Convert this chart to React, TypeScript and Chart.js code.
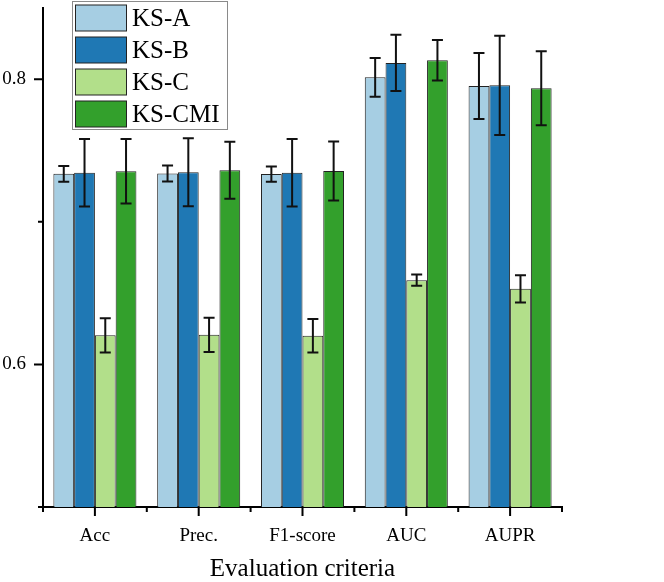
import React, { useEffect, useRef } from "react";
import { Chart, registerables } from "chart.js";

Chart.register(...registerables);

const categories = ["Acc", "Prec.", "F1-score", "AUC", "AUPR"];
const seriesNames = ["KS-A", "KS-B", "KS-C", "KS-CMI"];
const ksA = [0.7337, 0.7339, 0.7335, 0.8014, 0.7953];
const ksAErr = [0.0055, 0.0056, 0.0054, 0.0136, 0.0231];
const ksB = [0.7344, 0.7348, 0.7344, 0.8115, 0.7958];
const ksBErr = [0.0237, 0.0238, 0.0237, 0.0197, 0.0348];
const ksC = [0.6204, 0.6208, 0.6201, 0.6591, 0.653];
const ksCErr = [0.012, 0.012, 0.0118, 0.0039, 0.0095];
const ksCMI = [0.7355, 0.7362, 0.7357, 0.8134, 0.7937];
const ksCMIErr = [0.0227, 0.02, 0.0207, 0.0142, 0.026];
const seriesColors = ["#a6cee3", "#1f78b4", "#b2df8a", "#33a02c"];
const yLabeledTicks = [0.6, 0.8];
const yMinorTicks = [0.5, 0.7];
const yMin = 0.5;
const yMax = 0.85;
const xTitle = "Evaluation criteria";

const FONT = '"Liberation Serif", "Times New Roman", serif';

const errorBarPlugin = {
  id: "errorBars",
  afterDatasetsDraw(chart: any) {
    const ctx = chart.ctx;
    const ys = chart.scales.y;
    ctx.save();
    ctx.strokeStyle = "#111";
    ctx.lineWidth = 2;
    chart.data.datasets.forEach((ds: any, i: number) => {
      const meta = chart.getDatasetMeta(i);
      meta.data.forEach((el: any, j: number) => {
        const v = ds.data[j];
        const e = ds.errors[j];
        const x = el.x;
        const yt = ys.getPixelForValue(v + e);
        const yb = ys.getPixelForValue(v - e);
        const cap = 5.5;
        ctx.beginPath();
        ctx.moveTo(x, yt);
        ctx.lineTo(x, yb);
        ctx.moveTo(x - cap, yt);
        ctx.lineTo(x + cap, yt);
        ctx.moveTo(x - cap, yb);
        ctx.lineTo(x + cap, yb);
        ctx.stroke();
      });
    });
    ctx.restore();
  },
};

const tickMarksPlugin = {
  id: "tickMarks",
  afterDraw(chart: any) {
    const ctx = chart.ctx;
    const ys = chart.scales.y;
    const xs = chart.scales.x;
    const area = chart.chartArea;
    ctx.save();
    ctx.strokeStyle = "#000";
    ctx.lineWidth = 2;
    ctx.beginPath();
    yLabeledTicks.forEach((v) => {
      const y = ys.getPixelForValue(v);
      ctx.moveTo(area.left - 9, y);
      ctx.lineTo(area.left, y);
    });
    yMinorTicks.forEach((v) => {
      const y = ys.getPixelForValue(v);
      ctx.moveTo(area.left - 5, y);
      ctx.lineTo(area.left, y);
    });
    const n = categories.length;
    const w = (area.right - area.left) / n;
    for (let i = 0; i < n; i++) {
      const x = xs.getPixelForValue(i);
      ctx.moveTo(x, area.bottom);
      ctx.lineTo(x, area.bottom + 9);
    }
    for (let i = 0; i <= n; i++) {
      const x = area.left + i * w;
      ctx.moveTo(x, area.bottom);
      ctx.lineTo(x, area.bottom + 5);
    }
    ctx.stroke();
    ctx.restore();
  },
};

const legendPlugin = {
  id: "boxLegend",
  afterDraw(chart: any) {
    const ctx = chart.ctx;
    const bx = 72;
    const by = 1;
    const bw = 155;
    const bh = 128;
    ctx.save();
    ctx.fillStyle = "#fff";
    ctx.fillRect(bx, by, bw, bh);
    ctx.strokeStyle = "#8a8a8a";
    ctx.lineWidth = 1;
    ctx.strokeRect(bx + 0.5, by + 0.5, bw, bh);
    ctx.font = `25px ${FONT}`;
    ctx.textBaseline = "middle";
    ctx.textAlign = "left";
    chart.data.datasets.forEach((ds: any, i: number) => {
      const py = by + 4 + i * 32;
      ctx.fillStyle = ds.backgroundColor;
      ctx.fillRect(bx + 3.5, py, 51, 26);
      ctx.strokeStyle = "#222";
      ctx.lineWidth = 1;
      ctx.strokeRect(bx + 3.5, py, 51, 26);
      ctx.fillStyle = "#000";
      ctx.fillText(ds.label, bx + 60, py + 14);
    });
    ctx.restore();
  },
};

export default function App() {
  const ref = useRef<HTMLCanvasElement | null>(null);
  useEffect(() => {
    document.body.style.margin = "0";
    const canvas = ref.current;
    if (!canvas) return;
    const values = [ksA, ksB, ksC, ksCMI];
    const errs = [ksAErr, ksBErr, ksCErr, ksCMIErr];
    const chart = new Chart(canvas, {
      type: "bar",
      data: {
        labels: categories,
        datasets: seriesNames.map((name, i) => ({
          label: name,
          data: values[i],
          errors: errs[i],
          backgroundColor: seriesColors[i],
          borderColor: "#222",
          borderWidth: 1,
          categoryPercentage: 0.8,
          barPercentage: 1.0,
        })) as any,
      },
      options: {
        responsive: false,
        animation: false,
        layout: { padding: { left: 0, top: 8, right: 102, bottom: 0 } },
        plugins: {
          legend: { display: false },
          tooltip: { enabled: false },
          title: { display: false },
        },
        scales: {
          x: {
            grid: { display: false, drawTicks: false },
            border: { display: true, color: "#000", width: 2 },
            ticks: {
              padding: 18,
              color: "#000",
              font: { family: FONT, size: 19 },
              maxRotation: 0,
            },
            title: {
              display: true,
              text: xTitle,
              color: "#000",
              font: { family: FONT, size: 25, lineHeight: 1 },
              padding: { top: 0, bottom: 0 },
            },
            afterFit: (s: any) => {
              s.height = 75;
              s.paddingLeft = 0;
              s.paddingRight = 0;
            },
          },
          y: {
            min: yMin,
            max: yMax,
            grid: { display: false, drawTicks: false },
            border: { display: true, color: "#000", width: 2 },
            afterBuildTicks: (s: any) => {
              s.ticks = yLabeledTicks.map((v) => ({ value: v }));
            },
            ticks: {
              padding: 17,
              color: "#000",
              font: { family: FONT, size: 19 },
              callback: (v: any) => Number(v).toFixed(1),
            },
            afterFit: (s: any) => {
              s.width = 43;
              s.paddingTop = 0;
              s.paddingBottom = 0;
            },
          },
        },
      } as any,
      plugins: [errorBarPlugin, tickMarksPlugin, legendPlugin],
    });
    return () => chart.destroy();
  }, []);
  return (
    <canvas
      ref={ref}
      width={664}
      height={582}
      style={{ display: "block", width: 664, height: 582 }}
    />
  );
}
